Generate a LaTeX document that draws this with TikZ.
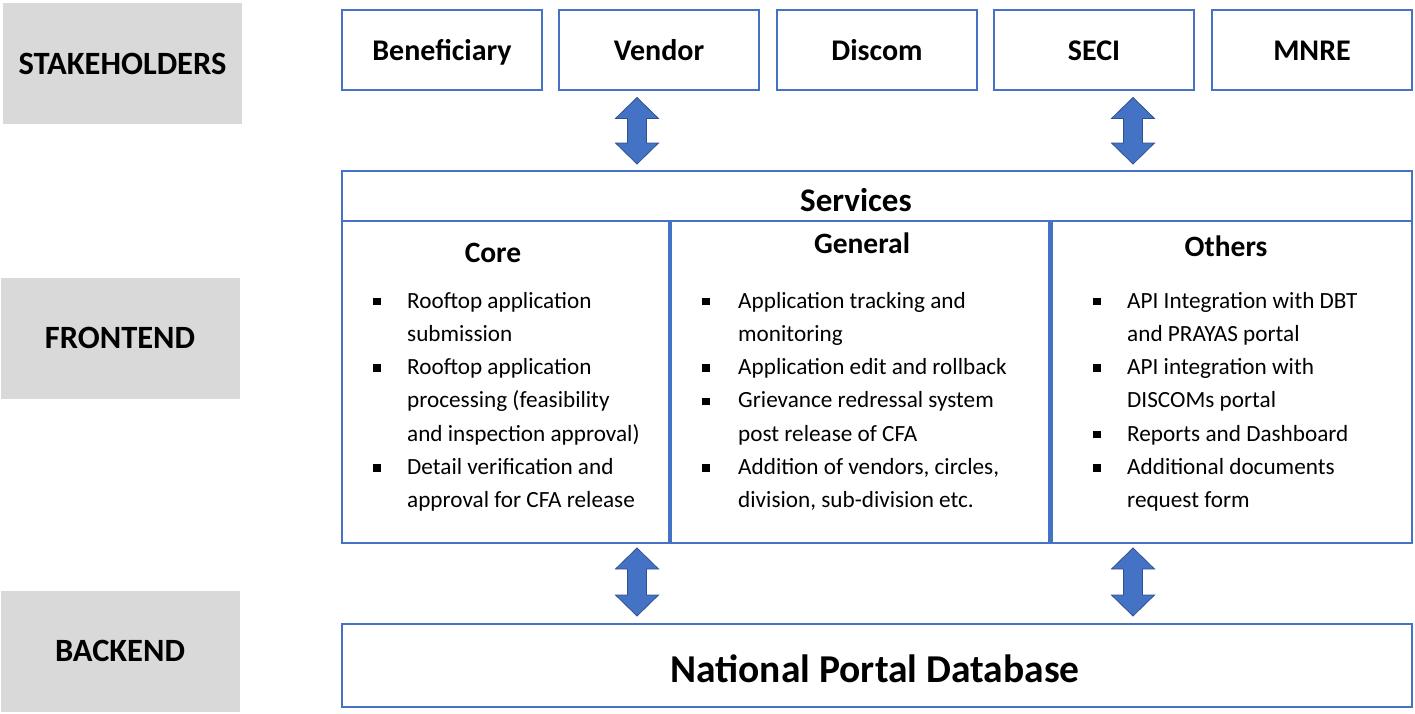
\documentclass[tikz,border=0pt]{standalone}
\usepackage{fontspec}
\setmainfont{Carlito}
\definecolor{frameblue}{HTML}{4472C4}
\definecolor{arrowedge}{HTML}{2F528F}
\definecolor{labelgray}{HTML}{D9D9D9}
\tikzset{
  graybox/.style={fill=labelgray, draw=none, minimum width=239pt, minimum height=121pt, inner sep=0pt,
    font=\fontsize{32.5}{36}\selectfont\bfseries},
  stakebox/.style={draw=frameblue, line width=1.3pt, fill=white, minimum width=200pt, minimum height=80pt, inner sep=0pt,
    text height=20pt, text depth=0pt, font=\fontsize{30}{34}\selectfont\bfseries},
  frameline/.style={draw=frameblue, line width=1.3pt},
  divider/.style={draw=frameblue, line width=4.5pt},
  titletext/.style={inner sep=0pt, font=\fontsize{29.5}{33}\selectfont\bfseries},
  bodytext/.style={anchor=base west, inner sep=0pt, font=\fontsize{23.2}{27}\selectfont},
  bulletsq/.style={fill=black, draw=none, minimum size=7.5pt, inner sep=0pt},
  blockarrow/.style={fill=frameblue, draw=arrowedge, line width=0.8pt, line join=miter}
}
\newcommand\dblarr[3]{%
  \path[blockarrow] (#1,#2) -- ++(21.5,21) -- ++(-12,0) -- (#1+9.5,#3-21) -- ++(12,0) -- (#1,#3)
    -- ++(-21.5,-21) -- ++(12,0) -- (#1-9.5,#2+21) -- ++(-12,0) -- cycle;}
\begin{document}
\begin{tikzpicture}[x=1pt,y=-1pt]
\useasboundingbox (0,0) rectangle (1415,713);
% left labels
\node[graybox] (stk) at (122.5,63.5) {STAKEHOLDERS};
\node[graybox] (fe) at (120,338) {FRONTEND};
\node[graybox] (be) at (120,651) {BACKEND};
% stakeholders
\node[stakebox] (ben) at (442,50) {Beneficiary};
\node[stakebox] (ven) at (659,50) {Vendor};
\node[stakebox] (dis) at (877,50) {Discom};
\node[stakebox] (seci) at (1094,50) {SECI};
\node[stakebox] (mnre) at (1312,50) {MNRE};
% services frame
\node[draw=frameblue, line width=1.3pt, minimum width=1070pt, minimum height=372pt, inner sep=0pt] (svc) at (877,357) {};
\coordinate (hl) at (342,221);
\coordinate (hr) at (1412,221);
\draw[frameline] (hl) -- (hr);
\coordinate (d1t) at (670,221);
\coordinate (d1b) at (670,543);
\coordinate (d2t) at (1050.5,221);
\coordinate (d2b) at (1050.5,543);
\draw[divider] (d1t) -- (d1b);
\draw[divider] (d2t) -- (d2b);
\node[titletext, font=\fontsize{33}{37}\selectfont\bfseries] (svct) at (856,200) {Services};
\node[titletext] (coret) at (493,253) {Core};
\node[titletext] (gent) at (862,243) {General};
\node[titletext] (otht) at (1226,246) {Others};
% body text
\foreach \t [count=\i] in {Rooftop application, submission, Rooftop application, processing (feasibility, and inspection approval), Detail verification and, approval for CFA release}
  \node[bodytext] (core\i) at (407,{308+(\i-1)*33.3}) {\t};
\foreach \t [count=\i] in {Application tracking and, monitoring, Application edit and rollback, Grievance redressal system, post release of CFA, {Addition of vendors, circles,}, {division, sub-division etc.}}
  \node[bodytext] (gen\i) at (738,{308+(\i-1)*33.3}) {\t};
\foreach \t [count=\i] in {API Integration with DBT, and PRAYAS portal, API integration with, DISCOMs portal, Reports and Dashboard, Additional documents, request form}
  \node[bodytext] (oth\i) at (1127,{308+(\i-1)*33.3}) {\t};
\foreach \i in {1,3,6}
  \node[bulletsq] (cb\i) at (377,{301.5+(\i-1)*33.3}) {};
\foreach \i in {1,3,4,6}
  \node[bulletsq] (gb\i) at (706,{301.5+(\i-1)*33.3}) {};
\foreach \i in {1,3,5,6}
  \node[bulletsq] (ob\i) at (1097,{301.5+(\i-1)*33.3}) {};
% backend
\node[draw=frameblue, line width=1.3pt, minimum width=1070pt, minimum height=83pt, inner sep=0pt] (npd) at (877,665.5) {};
\node[inner sep=0pt, font=\fontsize{39.5}{43}\selectfont\bfseries] (npdt) at (875,669) {National Portal Database};
% arrows
\dblarr{637}{97.5}{164}
\dblarr{1133}{97.5}{164}
\dblarr{637}{548}{616}
\dblarr{1133}{548}{616}
\end{tikzpicture}
\end{document}
